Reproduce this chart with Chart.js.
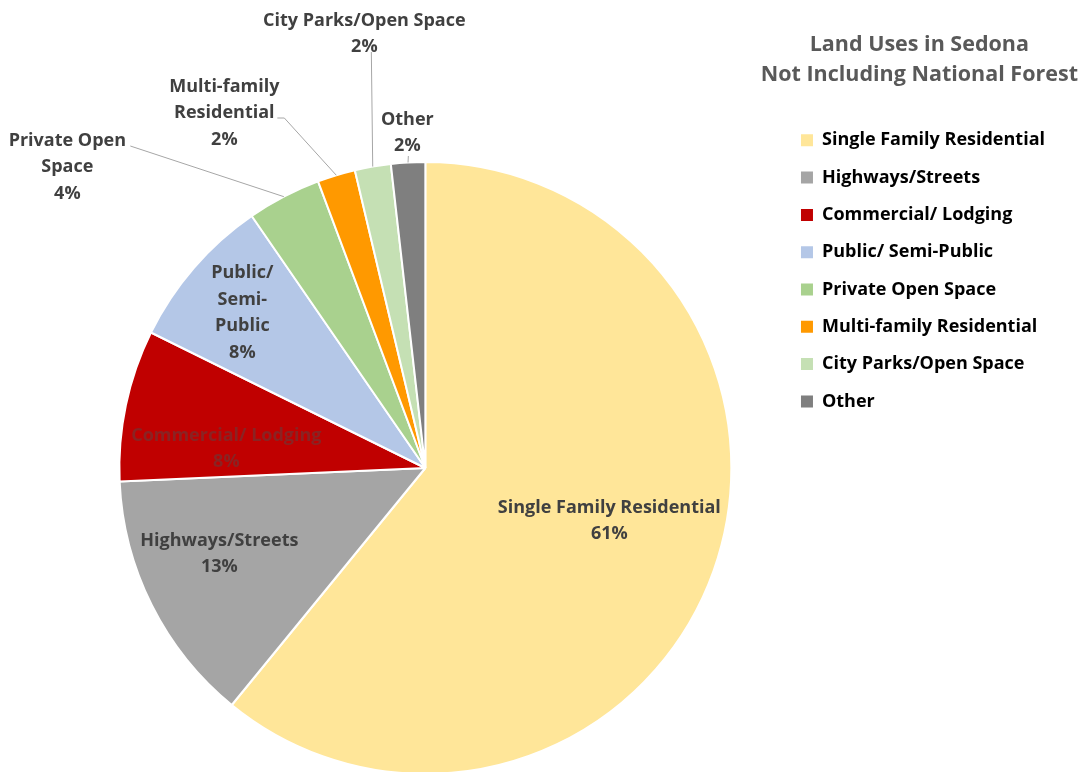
<!DOCTYPE html>
<html>
<head>
<meta charset="utf-8">
<script src="https://cdn.jsdelivr.net/npm/chart.js@4.4.1/dist/chart.umd.min.js"></script>
<style>
  html, body { margin: 0; padding: 0; background: #fff; overflow: hidden; }
  #wrap { position: relative; width: 1081px; height: 824px; }
</style>
</head>
<body>
<div id="wrap"><canvas id="landUse"></canvas></div>
<script>
var categories = ['Single Family Residential', 'Highways/Streets', 'Commercial/ Lodging', 'Public/ Semi-Public',
  'Private Open Space', 'Multi-family Residential', 'City Parks/Open Space', 'Other'];
var shares = [60.9, 13.4, 8.0, 8.1, 3.9, 2.0, 1.9, 1.8];
var colors = ['#FFE699', '#A5A5A5', '#C00000', '#B4C7E7', '#A9D18E', '#FF9900', '#C5E0B4', '#7F7F7F'];
var titleLines = ['Land Uses in Sedona', 'Not Including National Forest'];

// how each slice label wraps
var labelLines = [['Single Family Residential'], ['Highways/Streets'], ['Commercial/ Lodging'],
  ['Public/', 'Semi-', 'Public'], ['Private Open', 'Space'], ['Multi-family', 'Residential'],
  ['City Parks/Open Space'], ['Other']];

// label centre relative to the pie centre, leader end points relative to the label
var labelSpots = [
  {dx: 184, dy: 53},
  {dx: -206, dy: 86},
  {dx: -199, dy: -19, color: '#8a2323'},
  {dx: -183, dy: -155},
  {dx: -358, dy: -301, leader: [[63, -21]]},
  {dx: -201, dy: -355, leader: [[60, 5], [53, 5]]},
  {dx: -61, dy: -434, leader: [[7, 18]]},
  {dx: -18, dy: -335, leader: [[1, 23]]}
];

var FONT = '"Open Sans", sans-serif';

var sliceLabels = {
  id: 'sliceLabels',
  afterDatasetsDraw: function(chart) {
    var ctx = chart.ctx;
    var arcs = chart.getDatasetMeta(0).data;
    var total = shares.reduce(function(a, b) { return a + b; }, 0);
    ctx.save();
    ctx.font = 'bold 18px ' + FONT;
    ctx.textAlign = 'center';
    ctx.textBaseline = 'middle';
    arcs.forEach(function(arc, i) {
      var spot = labelSpots[i];
      var cx = arc.x + spot.dx, cy = arc.y + spot.dy;
      var lines = labelLines[i].concat(Math.round(shares[i] / total * 100) + '%');
      if (spot.leader) {
        var mid = (arc.startAngle + arc.endAngle) / 2;
        ctx.beginPath();
        ctx.moveTo(arc.x + Math.cos(mid) * arc.outerRadius, arc.y + Math.sin(mid) * arc.outerRadius);
        spot.leader.forEach(function(p) { ctx.lineTo(cx + p[0], cy + p[1]); });
        ctx.strokeStyle = '#A6A6A6';
        ctx.lineWidth = 1;
        ctx.stroke();
      }
      ctx.fillStyle = spot.color || '#404040';
      var top = cy - (lines.length - 1) * 26.5 / 2;
      lines.forEach(function(t, k) { ctx.fillText(t, cx, top + k * 26.5); });
    });
    ctx.restore();
  }
};

// legend heading, centred over the legend box
var legendHeading = {
  id: 'legendHeading',
  afterDraw: function(chart) {
    var lg = chart.legend;
    var ctx = chart.ctx;
    ctx.save();
    ctx.font = 'bold 21.5px ' + FONT;
    ctx.fillStyle = '#595959';
    ctx.textAlign = 'center';
    ctx.textBaseline = 'middle';
    var x = lg.left + lg.width / 2 + 1;
    titleLines.forEach(function(t, k) { ctx.fillText(t, x, 45 + k * 30); });
    ctx.restore();
  }
};

var chart = new Chart(document.getElementById('landUse'), {
  type: 'pie',
  data: {
    labels: categories,
    datasets: [{
      data: shares,
      backgroundColor: colors,
      borderColor: '#ffffff',
      borderWidth: 2,
      radius: 306
    }]
  },
  options: {
    responsive: true,
    maintainAspectRatio: false,
    animation: false,
    events: [],
    layout: { padding: { left: 69, right: 26, top: 112, bottom: 0 } },
    plugins: {
      tooltip: { enabled: false },
      legend: {
        position: 'right',
        align: 'start',
        labels: {
          color: '#595959',
          font: { family: FONT, size: 18, weight: 'bold' },
          boxWidth: 12,
          boxHeight: 12,
          padding: 19.3,
          generateLabels: function(chart) {
            return chart.data.labels.map(function(text, i) {
              return { text: text, fillStyle: colors[i], strokeStyle: colors[i], lineWidth: 0, hidden: false, index: i };
            });
          }
        }
      }
    }
  },
  plugins: [sliceLabels, legendHeading]
});
</script>
</body>
</html>
